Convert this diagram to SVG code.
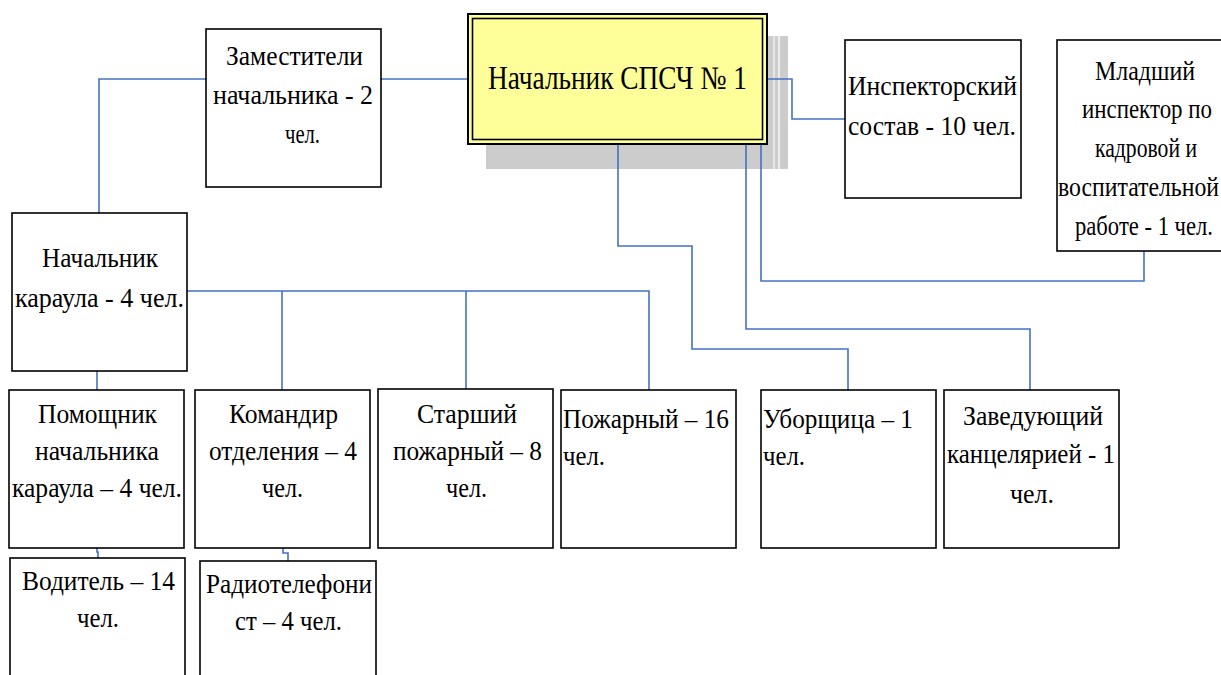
<svg xmlns="http://www.w3.org/2000/svg" width="1221" height="675" viewBox="0 0 1221 675">
<style>
.box{fill:#fff;stroke:#000;stroke-width:1.6}
.t{font-family:"Liberation Serif","Times New Roman",serif;font-size:27px;fill:#000;text-anchor:middle}
.l{text-anchor:start}
.c{fill:none;stroke:#4472C4;stroke-width:1.6}
</style>
<rect width="1221" height="675" fill="#fff"/>
<g id="main-shadow">
<rect x="486" y="36" width="302" height="133" fill="#cccccc"/>
<rect x="773" y="36" width="2" height="133" fill="#e6e6e6"/>
<rect x="778" y="36" width="2" height="133" fill="#eeeeee"/>
</g>
<g id="connectors">
<path class="c" d="M206 79H99V213"/>
<path class="c" d="M381 79H468"/>
<path class="c" d="M767 79H792V119H845"/>
<path class="c" d="M618 144V246H692V349H848V390"/>
<path class="c" d="M746 144V329H1030V390"/>
<path class="c" d="M761 144V281H1144V251"/>
<path class="c" d="M187 291H649V390"/>
<path class="c" d="M282 291V390"/>
<path class="c" d="M466 291V389"/>
<path class="c" d="M97 371V390"/>
<path class="c" d="M97 548V552H98V558"/>
<path class="c" d="M283 548V553H288V561"/>
</g>
<g id="main">
<rect x="468" y="14" width="299" height="130" fill="#ffff99" stroke="#000" stroke-width="2"/>
<rect x="472.5" y="18.5" width="290" height="121" fill="none" stroke="#000" stroke-width="1.6"/>
<text class="t" x="617.5" y="89" style="font-size:33px" textLength="259" lengthAdjust="spacingAndGlyphs">Начальник СПСЧ № 1</text>
</g>
<g id="zam">
<rect class="box" x="206" y="29" width="175" height="158"/>
<text class="t" x="294.5" y="65" textLength="137" lengthAdjust="spacingAndGlyphs">Заместители</text>
<text class="t" x="293" y="104" textLength="160" lengthAdjust="spacingAndGlyphs">начальника - 2</text>
<text class="t" x="302.5" y="143" textLength="35" lengthAdjust="spacingAndGlyphs">чел.</text>
</g>
<g id="insp">
<rect class="box" x="845" y="40" width="176" height="158"/>
<text class="t" x="932.5" y="95" textLength="169" lengthAdjust="spacingAndGlyphs">Инспекторский</text>
<text class="t" x="932" y="135" textLength="168" lengthAdjust="spacingAndGlyphs">состав - 10 чел.</text>
</g>
<g id="mlad">
<rect class="box" x="1057" y="40" width="180" height="211"/>
<text class="t" x="1145" y="80" textLength="100" lengthAdjust="spacingAndGlyphs">Младший</text>
<text class="t" x="1147" y="118" textLength="130" lengthAdjust="spacingAndGlyphs">инспектор по</text>
<text class="t" x="1146" y="157" textLength="102" lengthAdjust="spacingAndGlyphs">кадровой и</text>
<text class="t" x="1138.5" y="196" textLength="161" lengthAdjust="spacingAndGlyphs">воспитательной</text>
<text class="t" x="1144" y="235" textLength="138" lengthAdjust="spacingAndGlyphs">работе - 1 чел.</text>
</g>
<g id="nach-kar">
<rect class="box" x="12" y="213" width="175" height="158"/>
<text class="t" x="100" y="267" textLength="116" lengthAdjust="spacingAndGlyphs">Начальник</text>
<text class="t" x="99.5" y="307" textLength="169" lengthAdjust="spacingAndGlyphs">караула - 4 чел.</text>
</g>
<g id="pomosch">
<rect class="box" x="9" y="390" width="175" height="158"/>
<text class="t" x="97.5" y="423" textLength="119" lengthAdjust="spacingAndGlyphs">Помощник</text>
<text class="t" x="97" y="460" textLength="124" lengthAdjust="spacingAndGlyphs">начальника</text>
<text class="t" x="97" y="497" textLength="170" lengthAdjust="spacingAndGlyphs">караула – 4 чел.</text>
</g>
<g id="komandir">
<rect class="box" x="195" y="390" width="175" height="158"/>
<text class="t" x="283.5" y="423" textLength="109" lengthAdjust="spacingAndGlyphs">Командир</text>
<text class="t" x="283" y="460" textLength="148" lengthAdjust="spacingAndGlyphs">отделения – 4</text>
<text class="t" x="282.5" y="497" textLength="41" lengthAdjust="spacingAndGlyphs">чел.</text>
</g>
<g id="starshiy">
<rect class="box" x="378" y="389" width="175" height="159"/>
<text class="t" x="467" y="423" textLength="100" lengthAdjust="spacingAndGlyphs">Старший</text>
<text class="t" x="467.5" y="460" textLength="149" lengthAdjust="spacingAndGlyphs">пожарный – 8</text>
<text class="t" x="466.5" y="497" textLength="41" lengthAdjust="spacingAndGlyphs">чел.</text>
</g>
<g id="pozharniy">
<rect class="box" x="561" y="390" width="175" height="158"/>
<text class="t l" x="563" y="428" textLength="166" lengthAdjust="spacingAndGlyphs">Пожарный – 16</text>
<text class="t l" x="563" y="465" textLength="42" lengthAdjust="spacingAndGlyphs">чел.</text>
</g>
<g id="uborschica">
<rect class="box" x="761" y="390" width="175" height="158"/>
<text class="t l" x="763" y="428" textLength="150" lengthAdjust="spacingAndGlyphs">Уборщица – 1</text>
<text class="t l" x="763" y="465" textLength="42" lengthAdjust="spacingAndGlyphs">чел.</text>
</g>
<g id="zaveduyuschiy">
<rect class="box" x="944" y="390" width="175" height="158"/>
<text class="t" x="1033" y="425" textLength="140" lengthAdjust="spacingAndGlyphs">Заведующий</text>
<text class="t" x="1031" y="463" textLength="168" lengthAdjust="spacingAndGlyphs">канцелярией - 1</text>
<text class="t" x="1032" y="503" textLength="44" lengthAdjust="spacingAndGlyphs">чел.</text>
</g>
<g id="voditel">
<rect class="box" x="10" y="558" width="175" height="130"/>
<text class="t" x="98.5" y="590" textLength="153" lengthAdjust="spacingAndGlyphs">Водитель – 14</text>
<text class="t" x="98" y="627" textLength="42" lengthAdjust="spacingAndGlyphs">чел.</text>
</g>
<g id="radio">
<rect class="box" x="200" y="561" width="176" height="130"/>
<text class="t" x="289" y="593" textLength="166" lengthAdjust="spacingAndGlyphs">Радиотелефони</text>
<text class="t" x="288.5" y="630" textLength="107" lengthAdjust="spacingAndGlyphs">ст – 4 чел.</text>
</g>
</svg>
